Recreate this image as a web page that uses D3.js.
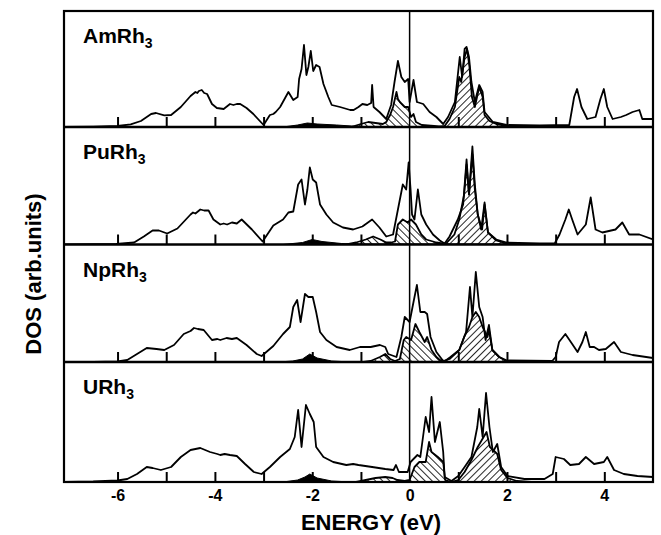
<!DOCTYPE html>
<html><head><meta charset="utf-8">
<script src="https://cdn.jsdelivr.net/npm/d3@7"></script>
<style>body{margin:0;background:#fff}svg{display:block}</style>
</head><body>
<svg id="c" width="661" height="535"></svg>
<script>
// ---------------- DATA (energy in eV, DOS in arbitrary units) ----------------
const compounds = ["Am", "Pu", "Np", "U"];
const xTickLabels = [-6, -4, -2, 0, 2, 4];
const minorTicks = [-6, -5, -4, -3, -2, -1, 1, 2, 3, 4];

const amTotal = [[-7.1,0],[-6.5,0.3],[-6.0,1],[-5.73,2.7],[-5.52,6],[-5.31,13],[-5.21,14],[-5.04,11.7],[-4.9,12],[-4.7,20],[-4.5,31],[-4.45,33],[-4.4,35],[-4.36,34],[-4.33,36],[-4.27,37],[-4.22,34],[-4.16,33],[-4.06,23],[-3.96,19],[-3.82,18],[-3.69,23],[-3.62,22],[-3.55,23],[-3.48,23],[-3.35,19],[-3.21,13],[-3.0,2],[-2.87,12],[-2.8,13],[-2.75,15],[-2.66,20],[-2.49,35],[-2.39,27],[-2.3,30],[-2.27,48],[-2.22,58],[-2.17,82],[-2.12,52],[-2.08,60],[-2.03,76],[-1.98,56],[-1.92,62],[-1.85,60],[-1.77,43],[-1.67,30],[-1.6,22],[-1.43,20],[-1.22,17],[-1.15,17],[-1.05,20],[-0.97,23],[-0.87,22],[-0.79,24],[-0.77,42],[-0.74,20],[-0.62,15],[-0.48,8],[-0.38,22],[-0.31,45],[-0.24,66],[-0.17,50],[-0.1,45],[-0.03,48],[0.0,25],[0.08,47],[0.15,25],[0.28,23],[0.41,15],[0.55,10],[0.69,3],[0.79,10],[0.93,25],[1.03,70],[1.08,50],[1.13,78],[1.17,80],[1.22,70],[1.27,45],[1.34,25],[1.43,42],[1.5,35],[1.54,15],[1.71,5],[1.99,2],[2.67,1.5],[3.28,2],[3.38,30],[3.44,38],[3.53,20],[3.65,8],[3.82,10],[3.92,28],[3.99,38],[4.06,20],[4.17,8],[4.34,10],[4.45,12],[4.58,15],[4.72,17],[4.78,8],[5.0,8]];
const amF52 = [[-1.2,0],[-1.0,3],[-0.85,5],[-0.7,4],[-0.55,3],[-0.48,5],[-0.4,12],[-0.34,20],[-0.27,35],[-0.24,28],[-0.2,25],[-0.1,20],[-0.03,20],[0.03,10],[0.08,13],[0.13,5],[0.25,2],[0.5,1],[0.7,0]];
const amF72 = [[0.6,0],[0.72,1],[0.82,8],[0.93,20],[1.02,50],[1.06,45],[1.13,70],[1.18,78],[1.23,60],[1.28,30],[1.34,20],[1.43,40],[1.5,30],[1.54,12],[1.64,6],[1.78,3],[2.0,1],[2.3,0]];
const amD = [[-2.6,0],[-2.3,2],[-2.1,4],[-1.9,3],[-1.5,2],[-1.2,1],[-0.9,0]];

const puTotal = [[-7.1,0],[-6.5,0.3],[-6.03,0.5],[-5.66,2],[-5.46,8],[-5.28,14],[-5.15,14],[-4.98,11],[-4.77,16],[-4.5,30],[-4.45,32],[-4.4,31],[-4.3,35],[-4.22,34],[-4.13,34],[-4.03,25],[-3.89,20],[-3.82,21],[-3.75,20],[-3.65,22],[-3.55,21],[-3.45,25],[-3.24,15],[-3.02,3],[-2.8,19],[-2.6,25],[-2.49,32],[-2.39,33],[-2.29,60],[-2.22,65],[-2.15,40],[-2.1,55],[-2.05,77],[-1.99,65],[-1.92,62],[-1.84,40],[-1.71,30],[-1.57,22],[-1.37,17],[-1.16,15],[-0.97,18],[-0.77,25],[-0.62,17],[-0.48,8],[-0.34,10],[-0.24,35],[-0.14,60],[-0.07,55],[-0.02,82],[0.02,55],[0.05,30],[0.1,25],[0.17,55],[0.24,30],[0.34,20],[0.48,10],[0.62,4],[0.72,1],[0.82,8],[0.99,25],[1.1,40],[1.17,85],[1.22,50],[1.29,98],[1.34,60],[1.4,30],[1.47,15],[1.54,42],[1.61,12],[1.78,5],[1.99,2],[2.67,1],[2.98,1],[3.08,10],[3.2,25],[3.27,35],[3.34,25],[3.45,10],[3.62,20],[3.72,47],[3.82,15],[3.96,12],[4.23,15],[4.37,22],[4.51,10],[4.72,10],[5.0,5]];
const puF52 = [[-1.3,0],[-1.1,2],[-0.9,5],[-0.75,8],[-0.6,5],[-0.48,2],[-0.38,2],[-0.3,3],[-0.24,20],[-0.14,25],[-0.04,22],[0.03,25],[0.13,20],[0.24,10],[0.34,5],[0.55,2],[0.8,0]];
const puF72 = [[0.65,0],[0.75,1],[0.92,10],[1.02,25],[1.12,50],[1.17,80],[1.22,50],[1.29,90],[1.34,55],[1.4,30],[1.49,15],[1.54,40],[1.61,12],[1.78,4],[1.99,1],[2.3,0]];
const puD = [[-2.6,0],[-2.2,2],[-2.0,5],[-1.8,3],[-1.4,1],[-1.0,0]];

const npTotal = [[-7.1,0],[-6.5,0],[-6.0,0.5],[-5.8,2],[-5.6,8],[-5.4,14],[-5.2,13],[-5.04,12],[-4.84,17],[-4.64,28],[-4.5,31],[-4.43,34],[-4.35,33],[-4.23,32],[-4.06,22],[-3.95,23],[-3.89,22],[-3.76,24],[-3.65,23],[-3.55,24],[-3.35,17],[-3.14,8],[-3.04,6],[-2.8,16],[-2.6,28],[-2.46,35],[-2.39,55],[-2.31,62],[-2.24,40],[-2.15,68],[-2.08,65],[-1.99,65],[-1.92,50],[-1.84,30],[-1.71,22],[-1.5,15],[-1.23,12],[-1.02,15],[-0.8,15],[-0.61,17],[-0.5,15],[-0.44,8],[-0.27,5],[-0.17,25],[-0.1,45],[0.0,40],[0.08,60],[0.15,77],[0.22,50],[0.31,50],[0.36,48],[0.43,25],[0.55,10],[0.69,1],[0.82,3],[1.02,12],[1.16,30],[1.24,75],[1.29,45],[1.36,90],[1.43,55],[1.5,45],[1.56,22],[1.63,37],[1.7,12],[1.84,5],[2.0,1.5],[2.93,1],[3.0,5],[3.07,20],[3.2,28],[3.34,18],[3.45,10],[3.55,20],[3.62,30],[3.7,15],[3.79,15],[3.89,12],[4.03,13],[4.2,20],[4.34,10],[4.58,7],[5.0,4]];
const npF52 = [[-0.95,0],[-0.8,1],[-0.61,5],[-0.5,8],[-0.4,3],[-0.3,1],[-0.2,3],[-0.12,22],[-0.07,25],[0.03,22],[0.12,38],[0.2,30],[0.31,20],[0.36,25],[0.45,12],[0.55,5],[0.62,2],[0.8,0]];
const npF72 = [[0.7,0],[0.84,5],[1.02,12],[1.12,25],[1.22,35],[1.29,45],[1.36,50],[1.43,45],[1.5,35],[1.6,25],[1.63,32],[1.7,12],[1.84,5],[1.98,1],[2.3,0]];
const npD = [[-2.7,0],[-2.4,1],[-2.2,3],[-2.05,8],[-1.9,4],[-1.6,1],[-1.2,0]];

const uTotal = [[-7.1,0],[-6.5,0.5],[-6.0,1.5],[-5.8,3],[-5.6,8],[-5.4,15],[-5.28,14],[-5.11,12],[-4.9,15],[-4.7,25],[-4.5,32],[-4.4,33],[-4.3,34],[-4.2,32],[-4.1,30],[-3.95,28],[-3.89,27],[-3.8,28],[-3.69,27],[-3.55,26],[-3.38,18],[-3.2,10],[-3.04,8],[-2.87,15],[-2.66,25],[-2.46,33],[-2.36,45],[-2.29,72],[-2.22,35],[-2.13,77],[-2.05,68],[-1.97,60],[-1.92,35],[-1.77,25],[-1.57,20],[-1.3,17],[-1.16,18],[-1.05,17],[-0.77,15],[-0.5,13],[-0.33,12],[-0.28,17],[-0.22,10],[-0.04,10],[0.02,20],[0.16,27],[0.22,25],[0.33,65],[0.4,50],[0.45,85],[0.52,40],[0.62,60],[0.69,30],[0.72,5],[0.86,1],[1.0,6],[1.13,15],[1.27,25],[1.39,55],[1.43,73],[1.5,45],[1.57,89],[1.64,55],[1.71,30],[1.8,38],[1.88,15],[2.01,6],[2.36,3],[2.77,3],[2.94,8],[3.0,25],[3.17,23],[3.3,17],[3.48,18],[3.62,25],[3.79,18],[3.99,20],[4.06,25],[4.2,12],[4.4,8],[4.68,6],[5.0,5]];
const uF52 = [[-1.1,0],[-0.9,2],[-0.7,4],[-0.5,5],[-0.35,4],[-0.25,2],[-0.1,1],[0.0,2],[0.1,15],[0.2,20],[0.33,20],[0.4,40],[0.45,30],[0.58,25],[0.69,20],[0.73,2],[0.85,0]];
const uF72 = [[0.85,0],[1.0,2],[1.13,10],[1.27,22],[1.4,35],[1.52,45],[1.58,50],[1.65,35],[1.8,28],[1.88,12],[2.01,4],[2.2,1],[2.5,0]];
const uD = [[-2.6,0],[-2.3,2],[-2.15,5],[-2.05,8],[-1.9,4],[-1.6,1],[-1.2,0]];

const totals = [amTotal, puTotal, npTotal, uTotal];
const f52s = [amF52, puF52, npF52, uF52];
const f72s = [amF72, puF72, npF72, uF72];
const dParts = [amD, puD, npD, uD];

// ---------------- LAYOUT ----------------
const svg = d3.select("#c");
const L = 64, R = 653, T = 11;
const bottoms = [127, 244.5, 362, 482];
const tops = [T, bottoms[0], bottoms[1], bottoms[2]];
const font = "'Liberation Sans', Arial, sans-serif";

const x = d3.scaleLinear().domain([-7.1, 5]).range([L, R]);

const defs = svg.append("defs");
function hatch(id, angle) {
  const p = defs.append("pattern").attr("id", id).attr("patternUnits", "userSpaceOnUse")
    .attr("width", 5).attr("height", 5).attr("patternTransform", `rotate(${angle})`);
  p.append("line").attr("x1", 0).attr("y1", -1).attr("x2", 0).attr("y2", 6)
    .attr("stroke", "#000").attr("stroke-width", 1.7);
}
hatch("hF72", 45);   // "/" hatch
hatch("hF52", -45);  // "\" hatch

compounds.forEach((c, i) => {
  const y = d3.scaleLinear().domain([0, 100]).range([bottoms[i], bottoms[i] - 100]);
  defs.append("clipPath").attr("id", "clip" + i).append("rect")
    .attr("x", L).attr("y", tops[i]).attr("width", R - L).attr("height", bottoms[i] - tops[i]);
  const g = svg.append("g").attr("clip-path", `url(#clip${i})`);
  const area = d3.area().x(d => x(d[0])).y0(y(0)).y1(d => y(d[1]));
  const line = d3.line().x(d => x(d[0])).y(d => y(d[1]));

  g.append("path").datum(dParts[i]).attr("d", area).attr("fill", "#000").attr("stroke", "#000").attr("stroke-width", 1);
  g.append("path").datum(f52s[i]).attr("d", area).attr("fill", "url(#hF52)").attr("stroke", "#000").attr("stroke-width", 1.8).attr("stroke-linejoin", "round");
  g.append("path").datum(f72s[i]).attr("d", area).attr("fill", "url(#hF72)").attr("stroke", "#000").attr("stroke-width", 1.8).attr("stroke-linejoin", "round");
  g.append("path").datum(totals[i]).attr("d", line).attr("fill", "none").attr("stroke", "#000").attr("stroke-width", 1.8).attr("stroke-linejoin", "round");

  // small inner ticks
  const ax = svg.append("g").attr("transform", `translate(0,${bottoms[i]})`)
    .call(d3.axisBottom(x).tickValues(minorTicks).tickSize(-10).tickFormat(""));
  ax.select(".domain").remove();
  ax.selectAll(".tick line").attr("stroke", "#000").attr("stroke-width", 2);

  // panel label
  const t = svg.append("text").attr("x", 83).attr("y", tops[i] + 32)
    .attr("font-family", font).attr("font-weight", "bold").attr("font-size", 21).attr("fill", "#000");
  t.append("tspan").text(c + "Rh");
  t.append("tspan").attr("dy", 5).attr("font-size", 14).text("3");
});

// Fermi level line
svg.append("line").attr("x1", x(0)).attr("x2", x(0)).attr("y1", T).attr("y2", bottoms[3])
  .attr("stroke", "#000").attr("stroke-width", 1.5);

// frame and panel separators
svg.append("rect").attr("x", L).attr("y", T).attr("width", R - L).attr("height", bottoms[3] - T)
  .attr("fill", "none").attr("stroke", "#000").attr("stroke-width", 2.2);
bottoms.slice(0, 3).forEach(b => {
  svg.append("line").attr("x1", L).attr("x2", R).attr("y1", b).attr("y2", b)
    .attr("stroke", "#000").attr("stroke-width", 2.4);
});

// x-axis tick labels
const xa = svg.append("g").attr("transform", `translate(0,${bottoms[3]})`)
  .call(d3.axisBottom(x).tickValues(xTickLabels).tickSize(0).tickPadding(8).tickFormat(d => d));
xa.select(".domain").remove();
xa.selectAll("text").attr("font-family", font).attr("font-weight", "bold").attr("font-size", 16).attr("fill", "#000");

// axis titles
svg.append("text").attr("x", 371).attr("y", 530).attr("text-anchor", "middle")
  .attr("font-family", font).attr("font-weight", "bold").attr("font-size", 22).text("ENERGY (eV)");
svg.append("text").attr("transform", "translate(41,274) rotate(-90)").attr("text-anchor", "middle")
  .attr("font-family", font).attr("font-weight", "bold").attr("font-size", 22).text("DOS (arb.units)");
</script>
</body></html>
